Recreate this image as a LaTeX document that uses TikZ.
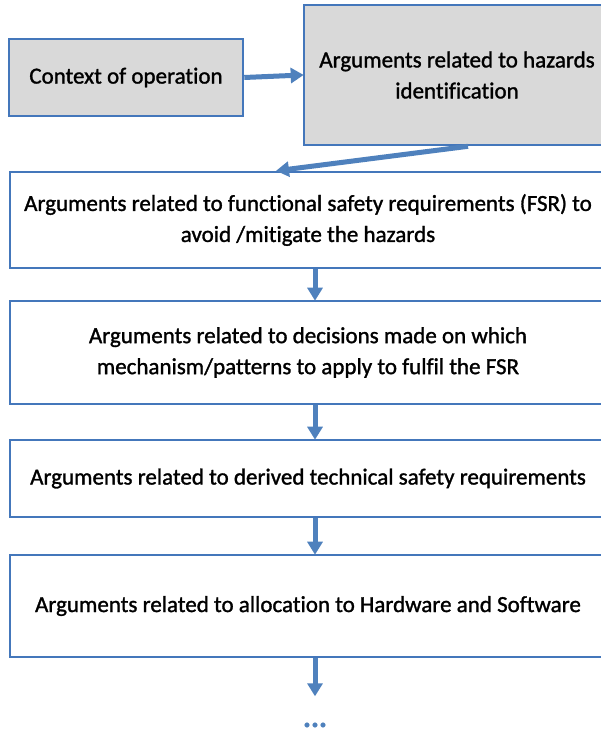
\documentclass[tikz,border=0pt]{standalone}
\usepackage{fontspec}
\setmainfont{Carlito}[Ligatures=NoCommon, FakeBold=1.3]
\usetikzlibrary{arrows.meta}
\definecolor{edgeblue}{HTML}{4477BB}
\definecolor{flowblue}{HTML}{4F81BD}
\definecolor{boxgray}{HTML}{D9D9D9}
\tikzset{
  box/.style={draw=edgeblue, line width=2.6pt, align=center, inner sep=0pt,
    font=\fontsize{23}{31}\selectfont},
  graybox/.style={box, fill=boxgray},
  whitebox/.style={box, fill=white},
  flow/.style={draw=flowblue, line width=5pt,
    -{Triangle[width=15pt,length=13pt]}, shorten >=-1pt},
}
\begin{document}
\begin{tikzpicture}[x=1pt, y=-1pt]
  \path[use as bounding box, clip] (0,0) rectangle (601,738);
  \fill[white] (0,0) rectangle (601,738);

  % upper row
  \node[graybox, minimum width=234pt, minimum height=77pt] (ctx) at (126,77.5)
    {Context of operation};
  \node[graybox, minimum width=306pt, minimum height=140pt] (haz) at (457,75)
    {Arguments related to hazards\\identification};

  % main chain of argument boxes
  \node[whitebox, minimum width=596pt, minimum height=96pt] (fsr) at (308,220)
    {Arguments related to functional safety requirements (FSR) to\\avoid /mitigate the hazards};
  \node[whitebox, minimum width=596pt, minimum height=103pt] (dec) at (308,352.5)
    {Arguments related to decisions made on which\\mechanism/patterns to apply to fulfil the FSR};
  \node[whitebox, minimum width=596pt, minimum height=77pt] (tech) at (308,478.5)
    {Arguments related to derived technical safety requirements};
  \node[whitebox, minimum width=596pt, minimum height=102pt] (alloc) at (308,606)
    {Arguments related to allocation to Hardware and Software};

  \node[text=flowblue, font=\fontsize{30}{30}\selectfont\bfseries] (more) at (315,725) {...};

  % connectors
  \coordinate (ax) at (315,0);
  \coordinate (dstart) at (468,0);
  \coordinate (dend) at (277,0);
  \draw[flow] (ctx.east) -- (haz.west);
  \draw[flow] (dstart |- haz.south) -- (dend |- fsr.north);
  \draw[flow] (ax |- fsr.south) -- (ax |- dec.north);
  \draw[flow] (ax |- dec.south) -- (ax |- tech.north);
  \draw[flow] (ax |- tech.south) -- (ax |- alloc.north);
  \draw[flow] (ax |- alloc.south) -- ++(0,37);
\end{tikzpicture}
\end{document}
